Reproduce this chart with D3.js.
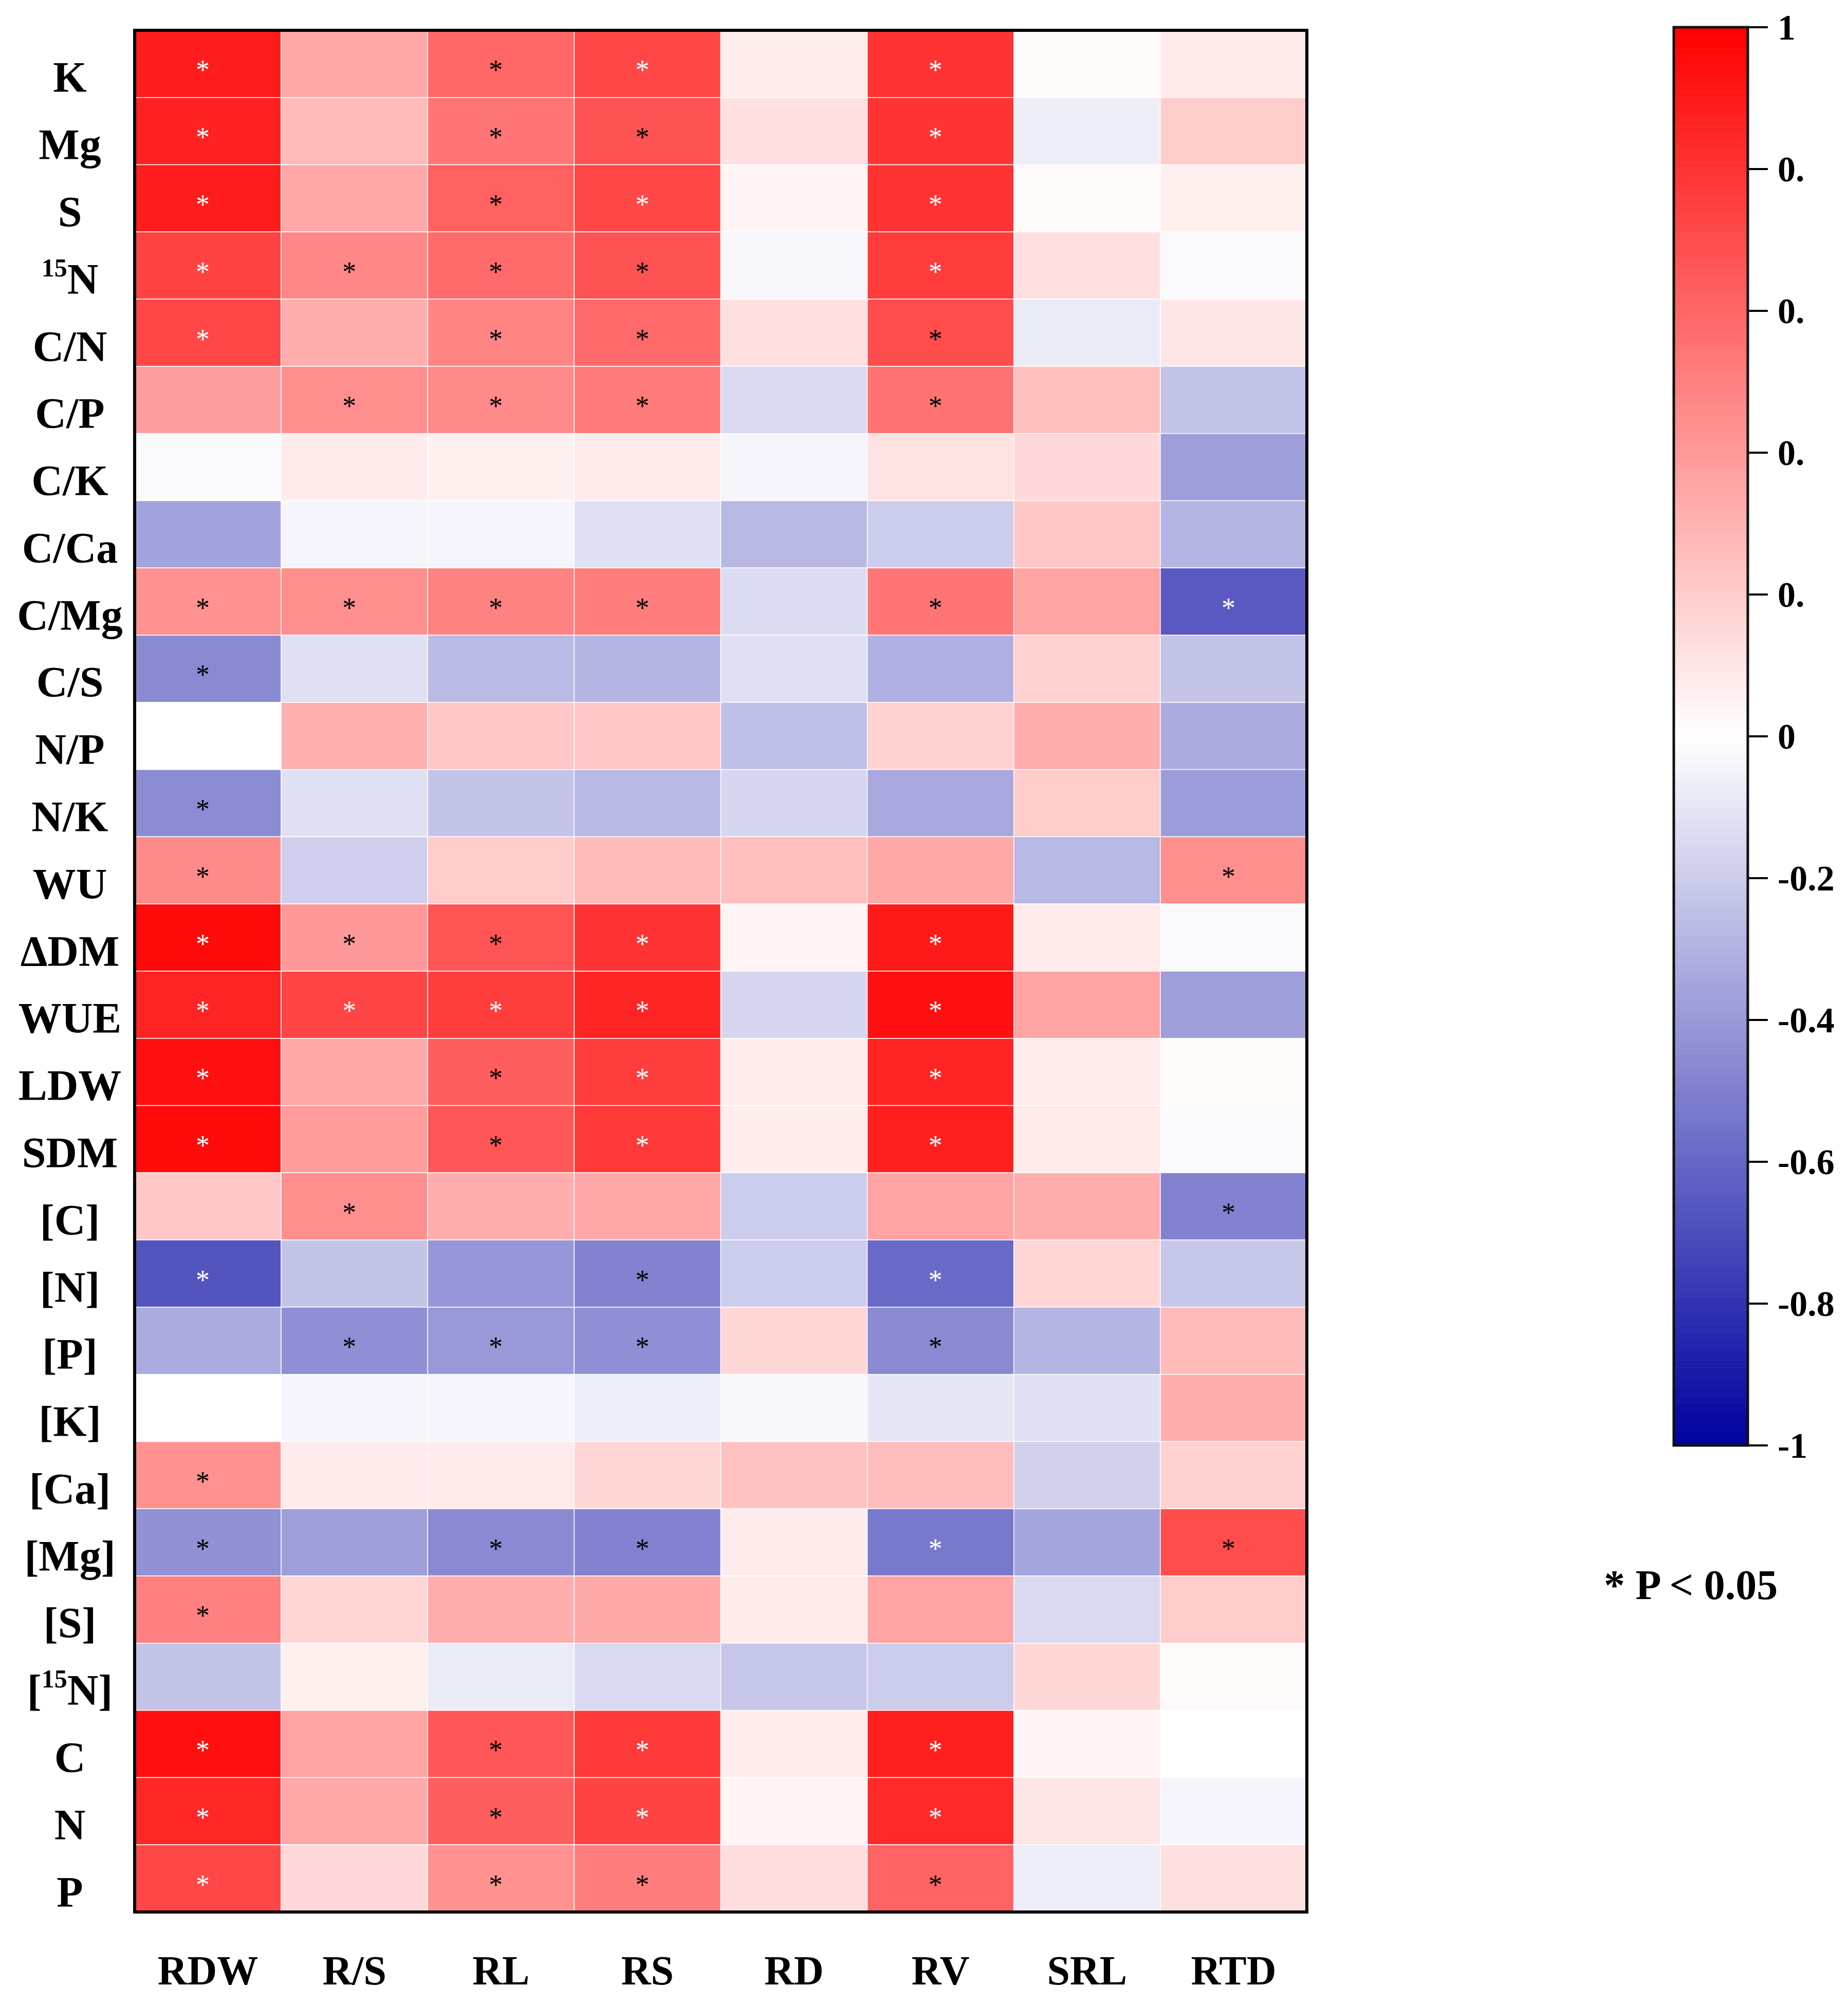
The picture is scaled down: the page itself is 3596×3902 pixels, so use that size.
<!DOCTYPE html>
<html>
<head>
<meta charset="UTF-8" />
<title>Correlation heatmap</title>
<script src="https://cdn.jsdelivr.net/npm/d3@7"></script>
<style>
body { margin:0; background:#fff; }
text { font-family:"Liberation Serif","Times New Roman",serif; }
</style>
</head>
<body>
<div id="chart"></div>
<script>
var w=3596,h=3902;
var plotL=262,plotT=59,plotR=2543,plotB=3721;

// row traits ({15} = superscript)
var rows=["K","Mg","S","{15}N","C/N","C/P","C/K","C/Ca","C/Mg","C/S","N/P","N/K","WU","\u0394DM","WUE","LDW","SDM",
          "[C]","[N]","[P]","[K]","[Ca]","[Mg]","[S]","[{15}N]","C","N","P"];
var cols=["RDW","R/S","RL","RS","RD","RV","SRL","RTD"];

// correlation coefficients, one array per row
var r=[
 [0.89,0.34,0.60,0.72,0.07,0.80,0.02,0.08],   // K
 [0.87,0.27,0.54,0.68,0.12,0.80,-0.07,0.20],  // Mg
 [0.89,0.34,0.62,0.72,0.04,0.80,0.02,0.06],   // S
 [0.74,0.47,0.58,0.68,-0.03,0.77,0.12,-0.02], // 15N
 [0.72,0.32,0.48,0.59,0.12,0.70,-0.08,0.10],  // C/N
 [0.38,0.44,0.46,0.52,-0.15,0.55,0.25,-0.23], // C/P
 [-0.02,0.08,0.06,0.08,-0.04,0.11,0.15,-0.38],// C/K
 [-0.36,-0.04,-0.04,-0.12,-0.28,-0.20,0.22,-0.29], // C/Ca
 [0.43,0.44,0.49,0.51,-0.14,0.54,0.36,-0.65], // C/Mg
 [-0.46,-0.12,-0.27,-0.29,-0.12,-0.31,0.18,-0.23], // C/S
 [0.00,0.31,0.22,0.22,-0.25,0.18,0.32,-0.33], // N/P
 [-0.45,-0.12,-0.23,-0.28,-0.16,-0.34,0.20,-0.39], // N/K
 [0.46,-0.19,0.20,0.27,0.25,0.34,-0.28,0.44], // WU
 [0.96,0.40,0.67,0.80,0.04,0.90,0.08,-0.02],  // dDM
 [0.86,0.73,0.76,0.86,-0.16,0.94,0.36,-0.38], // WUE
 [0.94,0.34,0.63,0.76,0.07,0.86,0.07,0.02],   // LDW
 [0.96,0.39,0.66,0.78,0.07,0.88,0.08,-0.02],  // SDM
 [0.22,0.44,0.32,0.35,-0.20,0.36,0.32,-0.49], // [C]
 [-0.67,-0.23,-0.41,-0.49,-0.20,-0.59,0.16,-0.22], // [N]
 [-0.33,-0.44,-0.40,-0.44,0.16,-0.46,-0.29,0.27],  // [P]
 [0.00,-0.04,-0.04,-0.07,-0.03,-0.10,-0.12,0.32],  // [K]
 [0.43,0.08,0.08,0.16,0.24,0.26,-0.18,0.18],  // [Ca]
 [-0.43,-0.38,-0.46,-0.49,0.08,-0.53,-0.35,0.70], // [Mg]
 [0.50,0.16,0.32,0.34,0.08,0.36,-0.15,0.20],  // [S]
 [-0.23,0.06,-0.08,-0.15,-0.22,-0.20,0.16,0.02], // [15N]
 [0.94,0.36,0.66,0.78,0.07,0.88,0.04,0.00],   // C
 [0.85,0.34,0.63,0.74,0.04,0.84,0.10,-0.04],  // N
 [0.72,0.15,0.43,0.51,0.13,0.61,-0.07,0.12]   // P
];

// significance marks: w = white *, b = black *, . = none
var sig=["w.bw.w..","w.bb.w..","w.bw.w..","wbbb.w..","w.bb.b..",".bbb.b..","........",
         "........","bbbb.b.w","b.......","........","b.......","b......b","wbbw.w..",
         "wwww.w..","w.bw.w..","w.bw.w..",".b.....b","w..b.w..",".bbb.b..","........",
         "b.......","b.bb.w.b","b.......","........","w.bw.w..","w.bw.w..","w.bb.b.."];

var cbTicks=[1,0.8,0.6,0.4,0.2,0,-0.2,-0.4,-0.6,-0.8,-1];
var cbLabels=["1","0.","0.","0.","0.","0","-0.2","-0.4","-0.6","-0.8","-1"];

var svg=d3.select('#chart')
          .append('svg')
          .attr('width',w)
          .attr('height',h);

var x=d3.scaleBand().domain(cols).range([plotL,plotR]);
var y=d3.scaleBand().domain(rows).range([plotT,plotB]);
var color=d3.scaleLinear().domain([-1,0,1]).range(["#0000a0","#ffffff","#ff0000"]);

var cells=[];
rows.forEach(function(rw,i){
  cols.forEach(function(c,j){
    cells.push({row:rw,col:c,v:r[i][j],s:sig[i][j]});
  });
});

svg.selectAll('rect.cell')
   .data(cells)
   .enter()
   .append('rect')
   .attr('class','cell')
   .attr('x',function(d){return x(d.col);})
   .attr('y',function(d){return y(d.row);})
   .attr('width',x.bandwidth())
   .attr('height',y.bandwidth())
   .attr('fill',function(d){return color(d.v);})
   .attr('stroke','#fff')
   .attr('stroke-width',1.5);

svg.selectAll('text.star')
   .data(cells.filter(function(d){return d.s!='.';}))
   .enter()
   .append('text')
   .attr('class','star')
   .attr('x',function(d){return x(d.col)+x.bandwidth()/2-10;})
   .attr('y',function(d){return y(d.row)+y.bandwidth()/2+30;})
   .attr('text-anchor','middle')
   .attr('font-size','54px')
   .attr('fill',function(d){return d.s=='w'?'#fff':'#000';})
   .text('*');

// frame
svg.append('rect')
   .attr('x',plotL).attr('y',plotT)
   .attr('width',plotR-plotL).attr('height',plotB-plotT)
   .attr('fill','none')
   .attr('stroke','#000')
   .attr('stroke-width',6);

// row labels
svg.selectAll('text.rowlab')
   .data(rows)
   .enter()
   .append('text')
   .attr('class','rowlab')
   .attr('x',136)
   .attr('y',function(d){return y(d)+y.bandwidth()/2+55;})
   .attr('text-anchor','middle')
   .attr('font-size','84px')
   .attr('font-weight','bold')
   .each(function(d){
     var t=d3.select(this);
     var parts=d.split(/(\{\d+\})/);
     var up=false;
     parts.forEach(function(p){
       if(p=='') return;
       if(p.charAt(0)=='{'){
         t.append('tspan').attr('font-size','50px').attr('dy',-34).text(p.slice(1,-1));
         up=true;
       }else{
         var s=t.append('tspan').text(p);
         if(up){ s.attr('dy',34); up=false; }
       }
     });
   });

// column labels
svg.selectAll('text.collab')
   .data(cols)
   .enter()
   .append('text')
   .attr('class','collab')
   .attr('x',function(d){return x(d)+x.bandwidth()/2;})
   .attr('y',3862)
   .attr('text-anchor','middle')
   .attr('font-size','80px')
   .attr('font-weight','bold')
   .text(function(d){return d;});

// colour bar
var cbx=3257,cbw=144;
var cy=d3.scaleLinear().domain([1,-1]).range([53,2813]);
var steps=d3.range(200).map(function(i){return 1-i*0.01;});
svg.selectAll('rect.band')
   .data(steps)
   .enter()
   .append('rect')
   .attr('class','band')
   .attr('x',cbx)
   .attr('y',function(d){return cy(d);})
   .attr('width',cbw)
   .attr('height',cy(0)-cy(0.01)+0.5)
   .attr('fill',function(d){return color(d-0.005);});

svg.append('rect')
   .attr('x',cbx).attr('y',cy(1))
   .attr('width',cbw).attr('height',cy(-1)-cy(1))
   .attr('fill','none')
   .attr('stroke','#111')
   .attr('stroke-width',5);

svg.selectAll('line.cbtick')
   .data(cbTicks)
   .enter()
   .append('line')
   .attr('class','cbtick')
   .attr('x1',cbx+cbw).attr('x2',cbx+cbw+39)
   .attr('y1',function(d){return cy(d);})
   .attr('y2',function(d){return cy(d);})
   .attr('stroke','#000')
   .attr('stroke-width',4);

svg.selectAll('text.cblab')
   .data(cbTicks)
   .enter()
   .append('text')
   .attr('class','cblab')
   .attr('x',3459)
   .attr('y',function(d){return cy(d)+24;})
   .attr('font-size','70px')
   .attr('font-weight','bold')
   .text(function(d,i){return cbLabels[i];});

svg.append('text')
   .attr('x',3121)
   .attr('y',3112)
   .attr('font-size','82px')
   .attr('font-weight','bold')
   .text('* P < 0.05');

</script>
</body>
</html>
